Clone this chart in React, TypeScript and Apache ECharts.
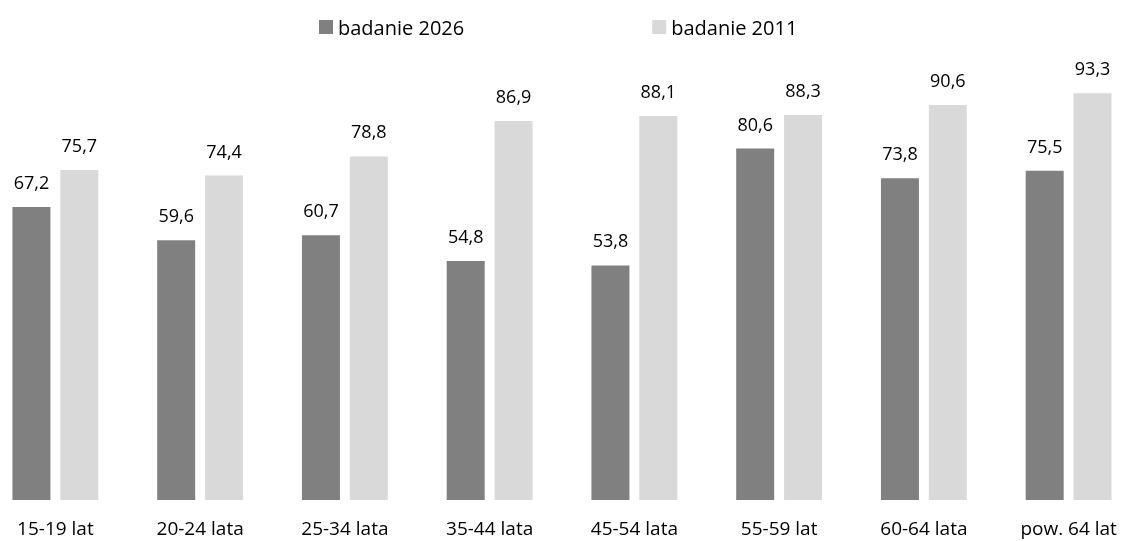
import React, { useEffect, useRef } from "react";
import * as echarts from "echarts";

const categories = ["15-19 lat", "20-24 lata", "25-34 lata", "35-44 lata", "45-54 lata", "55-59 lat", "60-64 lata", "pow. 64 lat"];
const seriesNames = ["badanie 2026", "badanie 2011"];
const values2026 = [67.2, 59.6, 60.7, 54.8, 53.8, 80.6, 73.8, 75.5];
const values2011 = [75.7, 74.4, 78.8, 86.9, 88.1, 88.3, 90.6, 93.3];

const FONT = "'Open Sans', 'Noto Sans', sans-serif";
const SHIFT = 17;

export default function App() {
  const ref = useRef<HTMLDivElement>(null);
  useEffect(() => {
    const chart = echarts.init(ref.current!, null, { renderer: "svg" });
    const label = {
      show: true,
      position: "top",
      distance: 16,
      color: "#000",
      fontSize: 18,
      fontFamily: FONT,
      formatter: (p: any) => p.value.toFixed(1).replace(".", ","),
    };
    chart.setOption({
      animation: false,
      textStyle: { fontFamily: FONT },
      legend: {
        top: 12,
        left: 314 + SHIFT,
        itemWidth: 14,
        itemHeight: 14,
        itemGap: 188,
        icon: "rect",
        textStyle: { fontSize: 20, color: "#000", fontFamily: FONT },
        data: seriesNames,
      },
      grid: { left: 0, right: 0, top: 64, bottom: 41, containLabel: false },
      xAxis: {
        type: "category",
        data: categories,
        axisLine: { show: false },
        axisTick: { show: false },
        axisLabel: { fontSize: 19, lineHeight: 20, color: "#000", fontFamily: FONT, margin: 18, interval: 0 },
      },
      yAxis: {
        type: "value",
        min: 0,
        max: 100,
        show: false,
        splitLine: { show: false },
      },
      series: [
        {
          name: seriesNames[0],
          type: "bar",
          data: values2026,
          barWidth: 38,
          barGap: "26%",
          itemStyle: { color: "#808080" },
          label,
        },
        {
          name: seriesNames[1],
          type: "bar",
          data: values2011,
          barWidth: 38,
          itemStyle: { color: "#d9d9d9" },
          label,
        },
      ],
    });
    return () => chart.dispose();
  }, []);
  return (
    <div style={{ position: "fixed", left: 0, top: 0, width: 1126, height: 541, overflow: "hidden" }}>
      <div ref={ref} style={{ position: "absolute", left: -SHIFT, top: 0, width: 1158, height: 541 }} />
    </div>
  );
}
